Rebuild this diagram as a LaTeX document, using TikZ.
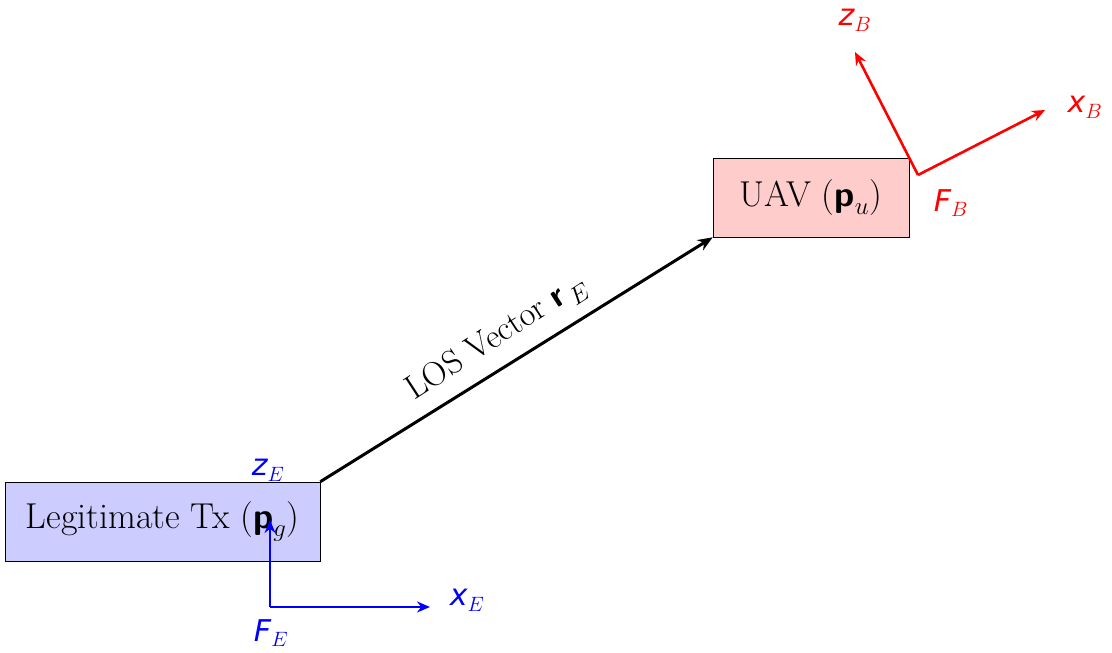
\documentclass[tikz,border=0pt]{standalone}
\usepackage{amsmath,amssymb}
\usepackage{fontspec}
\newfontfamily\axisfont{DejaVu Sans}
\usetikzlibrary{arrows.meta}
\tikzset{
  frame/.style={draw=black, line width=0.6, minimum width=315, minimum height=79, inner sep=0, font=\fontsize{36}{40}\selectfont},
  axis/.style={line width=2.6, -{Stealth[length=13,width=11]}},
  axlabel/.style={font=\fontsize{30}{34}\selectfont\axisfont\itshape}
}
\begin{document}
\begin{tikzpicture}[x=1pt,y=1pt,yscale=-1,xscale=1]
\useasboundingbox (0,0) rectangle (1112,653);

% Boxes
\node [frame, fill={rgb,255:red,204;green,204;blue,255}] (tx) at (162.5,521.5) {Legitimate Tx ($\boldsymbol{\mathsf{p}}_g$)};
\node [frame, fill={rgb,255:red,255;green,204;blue,204}, minimum width=196] (uav) at (811,197.5) {UAV ($\boldsymbol{\mathsf{p}}_u$)};

% LOS vector
\draw [line width=3, -{Stealth[length=15,width=12]}] (tx.north east) -- (uav.south west);
\node [rotate=33, font=\fontsize{34}{38}\selectfont] (los) at (497,338) {LOS Vector $\boldsymbol{\mathsf{r}}_{\,E}$};

% Earth frame
\coordinate (oE) at (270,607);
\coordinate (zE) at (270,520);
\coordinate (xE) at (430,607);
\draw [axis, blue] (oE) -- (zE);
\draw [axis, blue] (oE) -- (xE);
\node [axlabel, blue] at (268,470) {z$_E$};
\node [axlabel, blue] at (467,600) {x$_E$};
\node [axlabel, blue] at (271,633) {F$_E$};

% Body frame
\coordinate (oB) at (918,175);
\coordinate (zB) at (855,52);
\coordinate (xB) at (1045,110);
\draw [axis, red] (oB) -- (zB);
\draw [axis, red] (oB) -- (xB);
\node [axlabel, red] at (855,20) {z$_B$};
\node [axlabel, red] at (1085,107) {x$_B$};
\node [axlabel, red] at (951,203) {F$_B$};
\end{tikzpicture}
\end{document}
